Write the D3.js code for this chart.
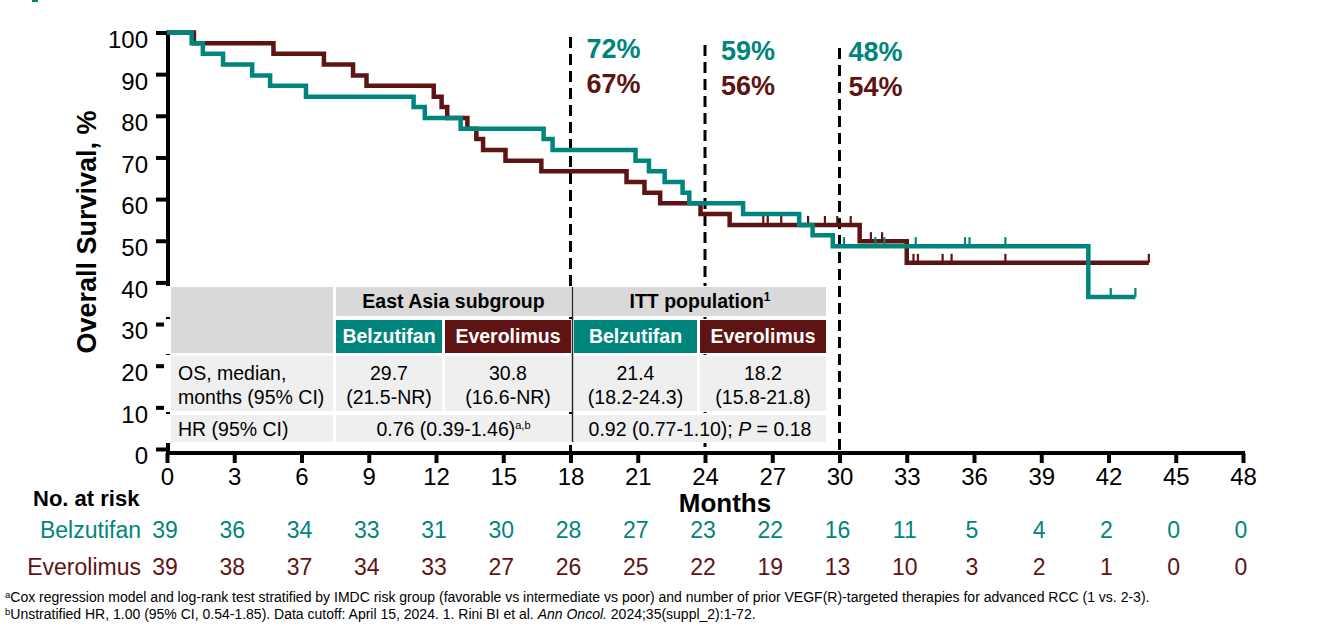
<!DOCTYPE html>
<html>
<head>
<meta charset="utf-8">
<script src="https://cdn.jsdelivr.net/npm/d3@7"></script>
<style>
  html, body { margin: 0; padding: 0; background: #fff; }
  svg { display: block; font-family: "Liberation Sans", Arial, sans-serif; }
</style>
</head>
<body>
<div id="chart"></div>
<script>
// data
const months = [0, 3, 6, 9, 12, 15, 18, 21, 24, 27, 30, 33, 36, 39, 42, 45, 48];
const yTicks = [0, 10, 20, 30, 40, 50, 60, 70, 80, 90, 100];

const belzTimes = [0, 1.1, 1.6, 2.5, 3.8, 4.6, 6.2, 11.0, 11.5, 13.1, 16.8, 17.2, 20.9, 21.5, 22.2, 23.0, 23.3, 25.7, 28.2, 28.8, 29.7, 41.1];
const belzSurv = [100, 97.4, 94.9, 92.3, 89.7, 87.2, 84.6, 82.1, 79.5, 76.9, 74.4, 71.8, 69.2, 66.7, 64.1, 61.5, 59.0, 56.4, 53.8, 51.3, 48.7, 36.5];
const belzEnd = 43.2;
const belzCensor = [30.2, 31.6, 32.0, 33.4, 35.6, 35.8, 37.4, 42.1, 43.2];

const everTimes = [0, 1.2, 4.75, 7.0, 8.3, 8.9, 11.9, 12.25, 12.5, 13.4, 13.8, 14.1, 15.1, 16.7, 20.5, 21.3, 22.0, 23.8, 25.1, 30.9, 33.0];
const everSurv = [100, 97.4, 94.9, 92.3, 89.7, 87.2, 84.6, 82.1, 79.5, 76.9, 74.4, 71.8, 69.2, 66.7, 64.1, 61.5, 59.0, 56.4, 53.8, 49.9, 44.7];
const everEnd = 43.8;
const everCensor = [26.6, 26.8, 27.4, 28.6, 29.35, 29.9, 30.5, 31.4, 31.9, 33.3, 33.5, 34.6, 35.0, 37.4, 43.8];

const landmarkMonths = [18, 24, 30];
const belzLandmark = ["72%", "59%", "48%"];
const everLandmark = ["67%", "56%", "54%"];

const belzRisk = [39, 36, 34, 33, 31, 30, 28, 27, 23, 22, 16, 11, 5, 4, 2, 0, 0];
const everRisk = [39, 38, 37, 34, 33, 27, 26, 25, 22, 19, 13, 10, 3, 2, 1, 0, 0];

const teal = "#00857c";
const maroon = "#5f1414";
const W = 1326, H = 631;

let svg = d3.select("#chart").append("svg")
  .attr("width", W)
  .attr("height", H)
  .attr("viewBox", "0 0 " + W + " " + H);

svg.append("rect").attr("width", W).attr("height", H).attr("fill", "#fff");
// little teal mark in the top-left corner
svg.append("rect").attr("x", 32).attr("y", 0).attr("width", 6).attr("height", 2).attr("fill", teal);

let x = d3.scaleLinear().domain([0, 48]).range([167, 1243]);
let y = d3.scaleLinear().domain([0, 100]).range([449, 32.5]);

// axes
let yAxis = svg.append("g")
  .attr("transform", "translate(168,0)")
  .call(d3.axisLeft(y).tickValues(yTicks).tickSize(12).tickSizeOuter(0).tickPadding(8));
yAxis.select(".domain").attr("stroke-width", 4).attr("d", "M0," + (y(100) - 2) + "V455");
yAxis.selectAll(".tick line").attr("stroke-width", 4);
yAxis.selectAll(".tick text")
  .attr("font-size", 24).attr("font-family", "Liberation Sans, Arial, sans-serif")
  .attr("fill", "#000").attr("dy", "0.62em");

let xAxis = svg.append("g")
  .attr("transform", "translate(0,453)")
  .call(d3.axisBottom(x).tickValues(months).tickSize(10).tickSizeOuter(0).tickPadding(5));
xAxis.select(".domain").attr("stroke-width", 4).attr("d", "M166,0H" + (x(48) + 2));
xAxis.selectAll(".tick line").attr("stroke-width", 4);
xAxis.selectAll(".tick text")
  .attr("font-size", 24).attr("font-family", "Liberation Sans, Arial, sans-serif")
  .attr("fill", "#000");

svg.append("text")
  .attr("transform", "translate(96,232) rotate(-90)")
  .attr("text-anchor", "middle")
  .attr("font-size", 27).attr("font-weight", "bold")
  .text("Overall Survival, %");

svg.append("text")
  .attr("x", 725).attr("y", 512)
  .attr("text-anchor", "middle")
  .attr("font-size", 26).attr("font-weight", "bold")
  .text("Months");

// dashed landmark lines
let dashTop = [37, 45, 48];
svg.selectAll(".landmark").data(landmarkMonths).enter().append("line")
  .attr("x1", d => x(d)).attr("x2", d => x(d))
  .attr("y1", (d, i) => dashTop[i]).attr("y2", 451)
  .attr("stroke", "#000").attr("stroke-width", 3)
  .attr("stroke-dasharray", "11,6");

// landmark percentages
let labelDx = [16, 16, 9];
svg.selectAll(".lmB").data(belzLandmark).enter().append("text")
  .attr("x", (d, i) => x(landmarkMonths[i]) + labelDx[i])
  .attr("y", (d, i) => 58 + i * 1.5)
  .attr("font-size", 27).attr("font-weight", "bold").attr("fill", teal)
  .text(d => d);
svg.selectAll(".lmE").data(everLandmark).enter().append("text")
  .attr("x", (d, i) => x(landmarkMonths[i]) + labelDx[i])
  .attr("y", (d, i) => 93 + i * 1.5)
  .attr("font-size", 27).attr("font-weight", "bold").attr("fill", maroon)
  .text(d => d);

// KM curves
function stepValue(times, surv, t) {
  let v = surv[0];
  for (let i = 0; i < times.length; i++) if (times[i] <= t) v = surv[i];
  return v;
}
let line = d3.line().x(d => x(d[0])).y(d => y(d[1])).curve(d3.curveStepAfter);
function drawCurve(times, surv, end, censor, color) {
  let pts = times.map((t, i) => [t, surv[i]]);
  pts.push([end, surv[surv.length - 1]]);
  svg.append("path")
    .attr("d", line(pts))
    .attr("fill", "none")
    .attr("stroke", color)
    .attr("stroke-width", 4.5);
  svg.selectAll(null).data(censor).enter().append("line")
    .attr("x1", d => x(d)).attr("x2", d => x(d))
    .attr("y1", d => y(stepValue(times, surv, d)))
    .attr("y2", d => y(stepValue(times, surv, d)) - 9)
    .attr("stroke", color).attr("stroke-width", 2.2);
}
drawCurve(everTimes, everSurv, everEnd, everCensor, maroon);
drawCurve(belzTimes, belzSurv, belzEnd, belzCensor, teal);

// summary table
let cols = [[171, 333], [336, 442], [445, 571], [574, 697], [700, 826]];
let rows = [[287, 316], [320, 353], [356, 411], [415, 442]];
let headGrey = "#d9d9d9", bodyGrey = "#efefef";
let tbl = svg.append("g").attr("font-size", 19.5);

rows.forEach(r => {
  tbl.append("rect").attr("x", 164).attr("y", r[0] - 1).attr("width", 665).attr("height", r[1] - r[0] + 2).attr("fill", "#fff");
});
tbl.append("rect").attr("x", cols[0][0]).attr("y", rows[0][0]).attr("width", cols[0][1] - cols[0][0]).attr("height", rows[1][1] - rows[0][0]).attr("fill", headGrey);
tbl.append("rect").attr("x", cols[1][0]).attr("y", rows[0][0]).attr("width", cols[2][1] - cols[1][0]).attr("height", rows[0][1] - rows[0][0]).attr("fill", headGrey);
tbl.append("rect").attr("x", cols[3][0]).attr("y", rows[0][0]).attr("width", cols[4][1] - cols[3][0]).attr("height", rows[0][1] - rows[0][0]).attr("fill", headGrey);

let armNames = ["Belzutifan", "Everolimus", "Belzutifan", "Everolimus"];
let armColors = [teal, maroon, teal, maroon];
armNames.forEach((name, i) => {
  let c = cols[i + 1];
  tbl.append("rect").attr("x", c[0]).attr("y", rows[1][0]).attr("width", c[1] - c[0]).attr("height", rows[1][1] - rows[1][0]).attr("fill", armColors[i]);
  tbl.append("text").attr("x", (c[0] + c[1]) / 2).attr("y", 343).attr("text-anchor", "middle")
    .attr("font-weight", "bold").attr("fill", "#fff").text(name);
});
[2, 3].forEach(ri => {
  cols.forEach((c, ci) => {
    if (ri === 3 && (ci === 2 || ci === 4)) return;
    let w = (ri === 3 && ci > 0) ? cols[ci + 1][1] - c[0] : c[1] - c[0];
    tbl.append("rect").attr("x", c[0]).attr("y", rows[ri][0]).attr("width", w).attr("height", rows[ri][1] - rows[ri][0]).attr("fill", bodyGrey);
  });
});

tbl.append("text").attr("x", 453.5).attr("y", 308).attr("text-anchor", "middle").attr("font-weight", "bold").text("East Asia subgroup");
let hdr2 = tbl.append("text").attr("x", 700).attr("y", 308).attr("text-anchor", "middle").attr("font-weight", "bold");
hdr2.append("tspan").text("ITT population");
hdr2.append("tspan").attr("font-size", 12).attr("dy", -7).text("1");

tbl.append("text").attr("x", 178).attr("y", 380).text("OS, median,");
tbl.append("text").attr("x", 178).attr("y", 404).text("months (95% CI)");
let medians = ["29.7", "30.8", "21.4", "18.2"];
let medianCI = ["(21.5-NR)", "(16.6-NR)", "(18.2-24.3)", "(15.8-21.8)"];
medians.forEach((m, i) => {
  let cx = (cols[i + 1][0] + cols[i + 1][1]) / 2;
  tbl.append("text").attr("x", cx).attr("y", 380).attr("text-anchor", "middle").text(m);
  tbl.append("text").attr("x", cx).attr("y", 404).attr("text-anchor", "middle").text(medianCI[i]);
});
tbl.append("text").attr("x", 178).attr("y", 436).text("HR (95% CI)");
let hrA = tbl.append("text").attr("x", 453.5).attr("y", 436).attr("text-anchor", "middle");
hrA.append("tspan").text("0.76 (0.39-1.46)");
hrA.append("tspan").attr("font-size", 11).attr("dy", -7).text("a,b");
let hrB = tbl.append("text").attr("x", 700).attr("y", 436).attr("text-anchor", "middle");
hrB.append("tspan").text("0.92 (0.77-1.10); ");
hrB.append("tspan").attr("font-style", "italic").text("P");
hrB.append("tspan").text(" = 0.18");

// separator line at 18 months through the table
tbl.append("line").attr("x1", 572.5).attr("x2", 572.5).attr("y1", 287).attr("y2", 442)
  .attr("stroke", "#222").attr("stroke-width", 1.5);

// number at risk
svg.append("text").attr("x", 33).attr("y", 506).attr("font-size", 22).attr("font-weight", "bold").text("No. at risk");
svg.append("text").attr("x", 141).attr("y", 538).attr("text-anchor", "end").attr("font-size", 23).attr("fill", teal).text("Belzutifan");
svg.append("text").attr("x", 141).attr("y", 575).attr("text-anchor", "end").attr("font-size", 23).attr("fill", maroon).text("Everolimus");
svg.selectAll(".riskB").data(belzRisk).enter().append("text")
  .attr("x", (d, i) => x(months[i]) - 2).attr("y", 538)
  .attr("text-anchor", "middle").attr("font-size", 23).attr("fill", teal).text(d => d);
svg.selectAll(".riskE").data(everRisk).enter().append("text")
  .attr("x", (d, i) => x(months[i]) - 2).attr("y", 575)
  .attr("text-anchor", "middle").attr("font-size", 23).attr("fill", maroon).text(d => d);

// footnotes
let f1 = svg.append("text").attr("x", 5).attr("y", 602).attr("font-size", 14);
f1.append("tspan").attr("font-size", 9.5).attr("dy", -4).text("a");
f1.append("tspan").attr("dy", 4).text("Cox regression model and log-rank test stratified by IMDC risk group (favorable vs intermediate vs poor) and number of prior VEGF(R)-targeted therapies for advanced RCC (1 vs. 2-3).");
let f2 = svg.append("text").attr("x", 5).attr("y", 619).attr("font-size", 14);
f2.append("tspan").attr("font-size", 9.5).attr("dy", -4).text("b");
f2.append("tspan").attr("dy", 4).text("Unstratified HR, 1.00 (95% CI, 0.54-1.85). Data cutoff: April 15, 2024. 1. Rini BI et al. ");
f2.append("tspan").attr("font-style", "italic").text("Ann Oncol.");
f2.append("tspan").text(" 2024;35(suppl_2):1-72.");
</script>
</body>
</html>
